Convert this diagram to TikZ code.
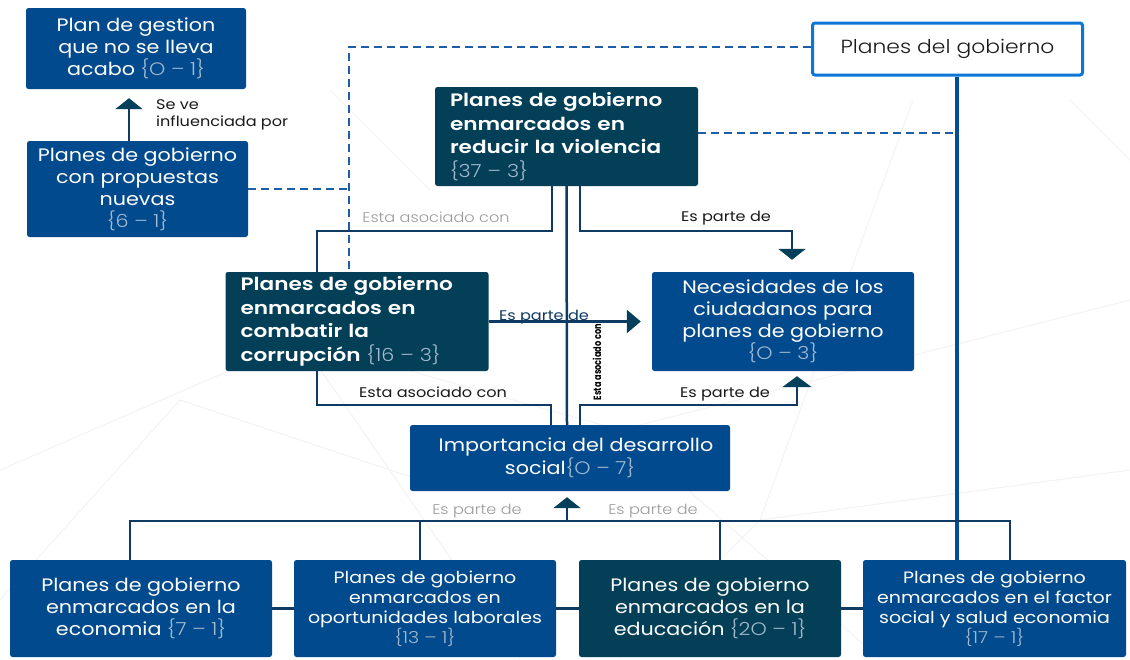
\documentclass[tikz,border=0pt]{standalone}
\usepackage{fontspec}
\setmainfont{Poppins}[FakeStretch=1.15]
\newfontfamily\lightfont{Poppins Light}[FakeStretch=1.15]
\newfontfamily\semifont{Poppins SemiBold}[FakeStretch=1.2]
\usetikzlibrary{arrows.meta}

\definecolor{blueBox}{HTML}{004A8D}
\definecolor{tealBox}{HTML}{033F57}
\definecolor{lineDark}{HTML}{0E3A63}
\definecolor{arrowc}{HTML}{05405A}
\definecolor{dashBlue}{HTML}{1E5EA9}
\definecolor{topBorder}{HTML}{0B76D6}
\definecolor{trunkc}{HTML}{004E98}
\definecolor{numc}{HTML}{A3B9CF}
\definecolor{labelDark}{HTML}{1A1A1A}
\definecolor{labelGray}{HTML}{9A9A9A}
\definecolor{meshc}{HTML}{F3F3F3}

\newcommand\cnt[1]{{\lightfont\color{numc}#1}}

\begin{document}
\begin{tikzpicture}[x=1pt,y=-1pt,
  box/.style={rectangle, rounded corners=2.5pt, inner sep=0pt, text=white,
    align=center, font=\fontsize{18}{22}\selectfont},
  bluebox/.style={box, fill=blueBox},
  tealbox/.style={box, fill=tealBox},
  boldbox/.style={tealbox, align=left, inner xsep=15pt, text width=233pt,
    minimum height=99pt, font=\semifont\fontsize{18}{23.5}\selectfont},
  conn/.style={draw=lineDark, line width=2.5pt},
  arr/.style={conn, -{Triangle[width=27pt,length=11pt,color=arrowc]}},
  dashc/.style={draw=dashBlue, line width=2.2pt, dash pattern=on 8pt off 5pt},
  trunk/.style={draw=trunkc, line width=4pt},
  lbl/.style={font=\fontsize{14}{17}\selectfont, text=labelDark, inner sep=0pt},
  glbl/.style={font=\lightfont\fontsize{14}{17}\selectfont, text=labelGray, inner sep=0pt},
  mesh/.style={draw=meshc, line width=1pt}
]
\useasboundingbox (0,0) rectangle (1130,659);
\fill[white] (0,0) rectangle (1130,659);

% faint background mesh
\draw[mesh] (0,470) -- (300,340) -- (620,430) -- (1130,300);
\draw[mesh] (300,340) -- (520,659);
\draw[mesh] (620,430) -- (880,659);
\draw[mesh] (913,100) -- (760,520) -- (1130,470);
\draw[mesh] (1070,100) -- (1130,160);
\draw[mesh] (0,600) -- (180,400) -- (420,480);
\draw[mesh] (760,520) -- (620,659);
\draw[mesh] (330,90) -- (430,190);

% nodes
\node[bluebox, minimum width=220pt, minimum height=81pt] (a) at (136,48.5)
  {Plan de gestion\\que no se lleva\\acabo \cnt{\{O – 1\}}};
\node[bluebox, minimum width=221pt, minimum height=96pt] (b) at (137.5,189)
  {Planes de gobierno\\con propuestas\\nuevas\\\cnt{\{6 – 1\}}};
\node[box, fill=white, draw=topBorder, line width=3pt, text=labelDark,
  minimum width=270pt, minimum height=52pt,
  font=\lightfont\fontsize{19}{22}\selectfont] (c) at (947.5,49) {Planes del gobierno};
\node[boldbox] (d) at (566.5,136.5)
  {Planes de gobierno\\enmarcados en\\reducir la violencia\\\cnt{\{37 – 3\}}};
\node[boldbox] (e) at (357,321.5)
  {Planes de gobierno\\enmarcados en\\combatir la\\corrupción \cnt{\{16 – 3\}}};
\node[bluebox, minimum width=262pt, minimum height=99pt] (f) at (783,321.5)
  {Necesidades de los\\ciudadanos para\\planes de gobierno\\\cnt{\{O – 3\}}};
\node[bluebox, minimum width=320pt, minimum height=66pt,
  font=\fontsize{18}{23}\selectfont] (g) at (570,458)
  {\hspace*{12pt}Importancia del desarrollo\\social\cnt{\{O – 7\}}};
\node[bluebox, minimum width=262pt, minimum height=97pt] (h) at (141,608.5)
  {Planes de gobierno\\enmarcados en la\\economia \cnt{\{7 – 1\}}};
\node[bluebox, minimum width=262pt, minimum height=97pt,
  font=\fontsize{16.5}{20}\selectfont] (i) at (425,608.5)
  {Planes de gobierno\\enmarcados en\\oportunidades laborales\\\cnt{\{13 – 1\}}};
\node[tealbox, minimum width=262pt, minimum height=97pt] (j) at (710,608.5)
  {Planes de gobierno\\enmarcados en la\\educación \cnt{\{2O – 1\}}};
\node[bluebox, minimum width=263pt, minimum height=97pt,
  font=\fontsize{16.5}{20}\selectfont] (k) at (994.5,608.5)
  {Planes de gobierno\\enmarcados en el factor\\social y salud economia\\\cnt{\{17 – 1\}}};

% dashed links
\draw[dashc] (c.west |- 0,47) -- (349,47) -- (349,47 |- e.north);
\draw[dashc] (b.east) -- (349,189);
\draw[dashc] (d.east |- 0,133) -- (957,133);

% trunk from the top box down to the last bottom box
\draw[trunk] ([xshift=9.5pt]c.south) -- ([xshift=-37.5pt]k.north);

% influence arrow
\draw[arr, shorten >=9pt] ([xshift=-8.5pt]b.north) -- ([xshift=-7pt]a.south);
\node[lbl, align=left, anchor=west, font=\fontsize{14}{17}\selectfont] (l0) at (156,115)
  {Se ve\\influenciada por};

% links from the violence box
\draw[conn] ([xshift=-14.5pt]d.south) |- (317,231) -- ([xshift=-40pt]e.north);
\draw[conn] (d.south) -- ([xshift=-3pt]g.north);
\draw[arr, shorten >=12pt] ([xshift=13.5pt]d.south) |- (792,231) -- ([xshift=9pt]f.north);
\node[glbl] (l1) at (436,217) {Esta asociado con};
\node[lbl] (l2) at (726,218) {Es parte de};

% corruption box to the needs box and to social development
\draw[arr, shorten >=11pt, -{Triangle[width=23pt,length=14pt,color=arrowc]}] (e.east) -- (f.west);
\node[lbl, anchor=base, text=lineDark] (l3) at (544,320) {Es parte de};
\draw[conn] ([xshift=-40pt]e.south) |- (551,405) -- ([xshift=-19pt]g.north);
\node[lbl] (l4) at (433,392) {Esta asociado con};
\draw[arr, shorten >=5pt, -{Triangle[width=29pt,length=11pt,color=arrowc]}]
  ([xshift=10pt]g.north) |- (797,405) -- ([xshift=14pt]f.south);
\node[lbl] (l5) at (725,394) {Es parte de};
\node[lbl, rotate=90, font=\bfseries\fontsize{10.5}{12}\selectfont, text=black] (l6) at (597,362)
  {\scalebox{0.68}[1]{Esta asociado con}};

% bottom bus
\coordinate (bus) at (567,521);
\draw[conn] ([xshift=-11pt]h.north) |- (bus) -| ([xshift=15.5pt]k.north);
\draw[conn] ([xshift=-5pt]i.north) -- ([xshift=-5pt]i.north |- bus);
\draw[conn] ([xshift=10pt]j.north) -- ([xshift=10pt]j.north |- bus);
\draw[arr, shorten >=6pt] (bus) -- ([xshift=-3pt]g.south);
\node[glbl] (l7) at (477,511) {Es parte de};
\node[glbl] (l8) at (653,511) {Es parte de};

% side links between the bottom boxes
\draw[conn] (h.east) -- (i.west);
\draw[conn] (i.east) -- (j.west);
\draw[conn] (j.east) -- (k.west);
\end{tikzpicture}
\end{document}
